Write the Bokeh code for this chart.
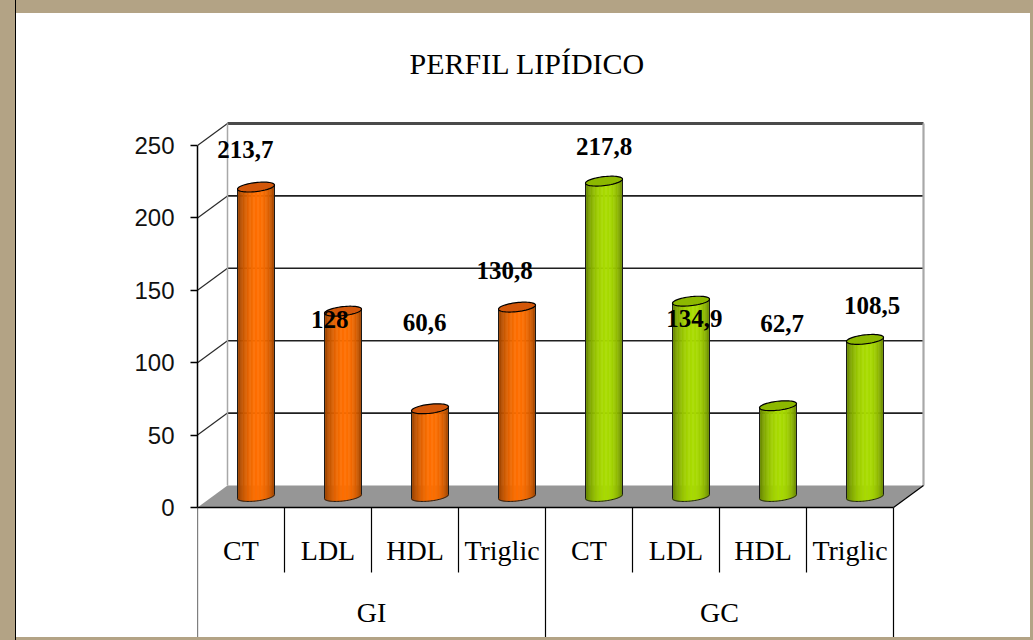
import numpy as np
from bokeh.plotting import figure
from bokeh.models import FixedTicker
from bokeh.layouts import column
from bokeh.embed import file_html
from bokeh.resources import INLINE
from bokeh.core.properties import value

# ---------------- data ----------------
groups = ["GI", "GC"]
categories = ["CT", "LDL", "HDL", "Triglic"]
gi_values = [213.7, 128.0, 60.6, 130.8]
gc_values = [217.8, 134.9, 62.7, 108.5]
y_ticks = [0, 50, 100, 150, 200, 250]
# where the original chart put each value label (value units / category-unit nudges)
label_heights = [247, 130, 128, 164, 249, 130.5, 127, 139.5]
label_nudges = [0.05, 0.02, 0.11, 0.03, 0.175, 0.21, 0.22, 0.255]

# ---------------- geometry (styling) ----------------
PXX = 87.0          # pixels per category
PXY = 1.448         # pixels per value unit
DX = 30 / PXX       # depth offset (x)
DY = 22 / PXY       # depth offset (y)
FRAME_W, FRAME_H = 733, 547
x_end = FRAME_W / PXX
y_top = 417 / PXY
y_bot = -130 / PXY

values = gi_values + gc_values
n = len(values)
ncat = len(categories)

p = figure(width=1014, height=624, x_range=(0, x_end), y_range=(y_bot, y_top),
           output_backend="svg", toolbar_location=None, x_axis_type=None,
           min_border_left=181, min_border_right=100, min_border_top=77,
           min_border_bottom=0)
p.margin = (13, 3, 3, 16)
p.styles = {"background-color": "white"}
p.xgrid.visible = False
p.ygrid.visible = False
p.outline_line_color = None
p.background_fill_color = "white"
p.border_fill_color = "white"

# title
p.title.text = "PERFIL LIPÍDICO"
p.title.align = "left"
p.title.offset = 212
p.title.text_font = "Liberation Serif"
p.title.text_font_style = "normal"
p.title.text_font_size = "30px"
p.title.text_color = "black"
p.title.standoff = 21

# y axis
ya = p.yaxis[0]
ya.bounds = (0, 250)
ya.ticker = FixedTicker(ticks=y_ticks)
ya.minor_tick_line_color = None
ya.major_tick_in = 0
ya.major_tick_out = 7
ya.axis_line_color = "black"
ya.axis_line_width = 1.5
ya.major_tick_line_color = "black"
ya.major_tick_line_width = 1.5
ya.major_label_standoff = 16
ya.major_label_text_font = "Liberation Sans"
ya.major_label_text_font_size = "24px"
ya.major_label_text_color = "#111111"

# ---------------- back & side walls ----------------
grid_vals = [t for t in y_ticks if 0 < t < 250]
p.segment(x0=[DX] * len(grid_vals), y0=[v + DY for v in grid_vals],
          x1=[ncat * 2 + DX] * len(grid_vals), y1=[v + DY for v in grid_vals],
          line_color="#1f1f1f", line_width=1.6)
side_vals = [t for t in y_ticks if t > 0]
p.segment(x0=[0] * len(side_vals), y0=side_vals,
          x1=[DX] * len(side_vals), y1=[v + DY for v in side_vals],
          line_color="#2a2a2a", line_width=1.2)
top_v = max(y_ticks)
p.segment(x0=[DX], y0=[top_v + DY], x1=[n + DX], y1=[top_v + DY],
          line_color="#4a4a4a", line_width=3)
p.segment(x0=[DX, n + DX], y0=[DY, DY], x1=[DX, n + DX], y1=[top_v + DY, top_v + DY],
          line_color="#a8a8a8", line_width=[1.5, 2.2])

# floor
p.patch(x=[0, n, n + DX, DX], y=[0, 0, DY, DY], fill_color="#969696", line_color=None)
p.segment(x0=[0, n], y0=[0, 0], x1=[n, n + DX], y1=[0, DY], line_color="black", line_width=[1.5, 1.2])

# ---------------- cylinders ----------------
A = 18.5 / PXX            # half width (data)
B = 4.5 / PXY             # ellipse half height (data)
TAN = 0.11                # screen-space tilt of the ellipses
NS = 28

def shear(dx):
    return TAN * dx * PXX / PXY

def shade(rgb, t):
    s = 0.55 + 0.45 * np.sin(np.pi * t ** 1.2) ** 0.6
    r, g, b = [int(min(255, c * s)) for c in rgb]
    return "#%02x%02x%02x" % (r, g, b)

orange = (255, 112, 0)
green = (170, 220, 0)
top_cols = ["#d2570a", "#8cb800"]

ql, qr, qt, qb, qc = [], [], [], [], []
out_x, out_y, top_x, top_y, top_c = [], [], [], [], []
base = DY / 2
for i, v in enumerate(values):
    gi = i // ncat
    rgb = orange if gi == 0 else green
    cx = i + 0.5 + DX / 2
    top = base + v
    edges = np.linspace(cx - A, cx + A, NS + 1)
    for k in range(NS):
        xc = (edges[k] + edges[k + 1]) / 2
        u = (xc - cx) / A
        t = (k + 0.5) / NS
        ql.append(edges[k]); qr.append(edges[k + 1])
        qb.append(base + shear(xc - cx) - B * np.sqrt(max(0.0, 1 - u * u)))
        qt.append(top + shear(xc - cx))
        qc.append(shade(rgb, t))
    phi = np.linspace(np.pi, 2 * np.pi, 40)
    bx = cx + A * np.cos(phi)
    by = base + B * np.sin(phi) + shear(A * np.cos(phi))
    ox = np.concatenate([[cx - A], bx, [cx + A]])
    oy = np.concatenate([[top + shear(-A)], by, [top + shear(A)]])
    out_x.append(list(ox)); out_y.append(list(oy))
    phi2 = np.linspace(0, 2 * np.pi, 60)
    tx = cx + A * np.cos(phi2)
    ty = top + B * np.sin(phi2) + shear(A * np.cos(phi2))
    top_x.append(list(tx)); top_y.append(list(ty)); top_c.append(top_cols[gi])

p.quad(left=ql, right=qr, top=qt, bottom=qb, fill_color=qc, line_color=qc, line_width=0.6)
p.multi_line(xs=out_x, ys=out_y, line_color="#1a1a1a", line_width=1)
p.patches(xs=top_x, ys=top_y, fill_color=top_c, line_color="black", line_width=1.2)

# ---------------- value labels ----------------
lab_txt = [("%g" % v).replace(".", ",") for v in values]
p.text(x=[i + 0.5 + label_nudges[i] for i in range(n)], y=label_heights, text=lab_txt,
       text_font=value("Liberation Serif"), text_font_style="bold", text_font_size="25px",
       text_align="center", text_baseline="middle", text_color="black")

# ---------------- category table ----------------
cat_y = -43 / PXY
grp_y = -105 / PXY
short_y = -65 / PXY
full_x = [g * ncat for g in range(len(groups) + 1)]
short_x = [i for i in range(1, n) if i % ncat != 0]
p.segment(x0=full_x, y0=[0] * len(full_x), x1=full_x, y1=[y_bot] * len(full_x),
          line_color="black", line_width=1.2)
p.segment(x0=short_x, y0=[0] * len(short_x), x1=short_x, y1=[short_y] * len(short_x),
          line_color="black", line_width=1.2)
p.text(x=[i + 0.5 for i in range(n)], y=[cat_y] * n, text=categories * len(groups),
       text_font=value("Liberation Serif"), text_font_size="28px",
       text_align="center", text_baseline="middle", text_color="black")
p.text(x=[g * ncat + ncat / 2 for g in range(len(groups))], y=[grp_y] * len(groups), text=groups,
       text_font=value("Liberation Serif"), text_font_size="28px",
       text_align="center", text_baseline="middle", text_color="black")

layout = column(p, styles={"background": "linear-gradient(to right, #b3a385 15px, #000 15px, #000 16px, #b3a385 16px)"})

open("out.html", "w").write(file_html(layout, INLINE))
